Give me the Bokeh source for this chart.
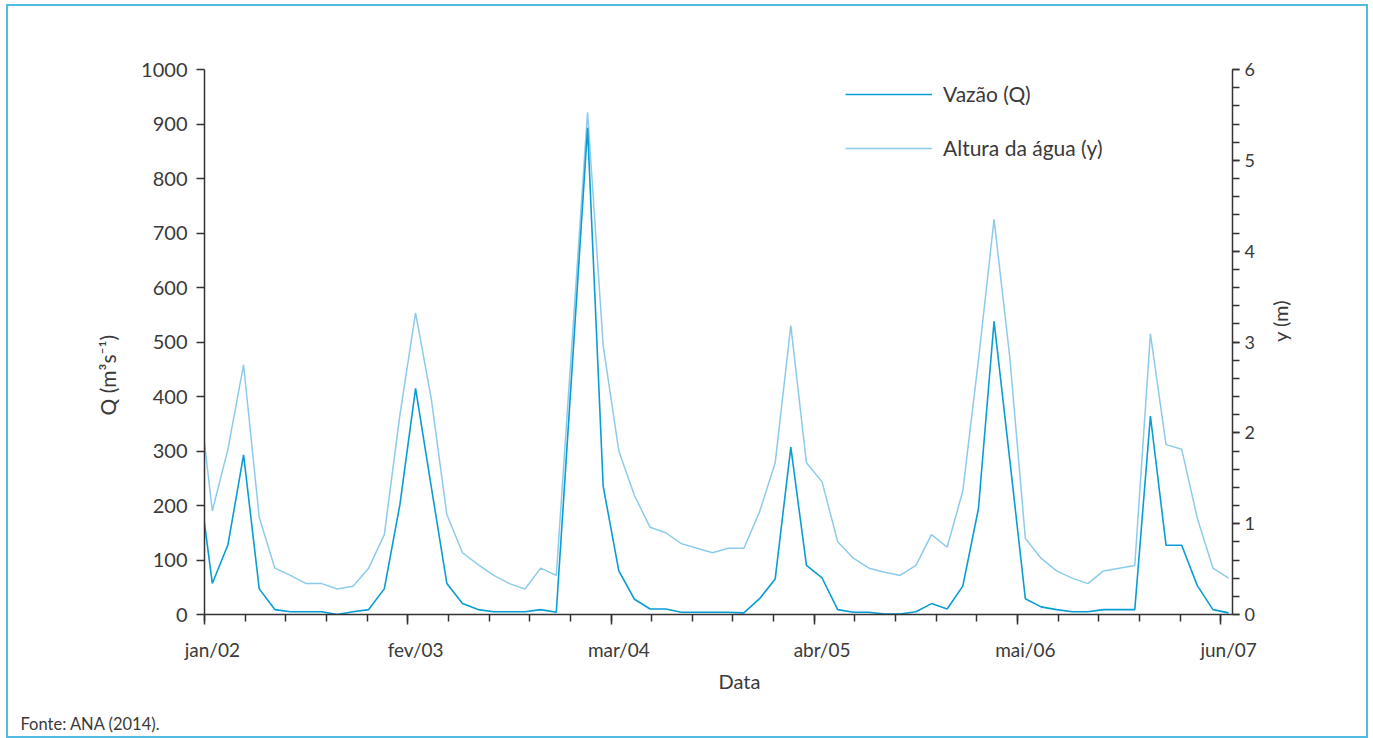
import math
import pandas as pd
from bokeh.plotting import figure
from bokeh.models import (Range1d, LinearAxis, FixedTicker, Legend, LegendItem, Title)
from bokeh.embed import file_html
from bokeh.resources import INLINE

# ---------------- data ----------------
months = pd.date_range("2001-12-01", "2007-06-01", freq="MS")

vazao = [277, 57, 128, 293, 47, 9, 5, 5, 5, 0, 5, 9, 47, 202, 415, 235, 57, 20, 9, 5,
         5, 5, 9, 4, 447, 893, 235, 80, 28, 10, 10, 4, 4, 4, 4, 3, 29, 65, 307, 90,
         67, 9, 4, 4, 1, 1, 5, 20, 10, 52, 194, 538, 285, 29, 14, 9, 5, 5, 9, 9,
         9, 364, 127, 127, 53, 9, 3]

altura = [2.64, 1.14, 1.82, 2.75, 1.07, 0.51, 0.43, 0.34, 0.34, 0.28, 0.31, 0.51, 0.88, 2.20,
          3.32, 2.38, 1.10, 0.68, 0.55, 0.43, 0.34, 0.28, 0.51, 0.43, 2.98, 5.53, 2.96, 1.80,
          1.31, 0.96, 0.90, 0.78, 0.73, 0.68, 0.73, 0.73, 1.13, 1.67, 3.18, 1.67, 1.46, 0.80,
          0.62, 0.51, 0.465, 0.43, 0.54, 0.88, 0.74, 1.36, 2.80, 4.35, 2.84, 0.84, 0.62, 0.48,
          0.40, 0.34, 0.48, 0.51, 0.54, 3.09, 1.87, 1.82, 1.06, 0.51, 0.40]

tick_months = ["2002-01-01", "2003-02-01", "2004-03-01", "2005-04-01", "2006-05-01", "2007-06-01"]
tick_labels = ["jan/02", "fev/03", "mar/04", "abr/05", "mai/06", "jun/07"]

q_ticks = list(range(0, 1001, 100))
h_ticks = [0, 1, 2, 3, 4, 5, 6]


def month_index(d):
    d = pd.Timestamp(d)
    return (d.year - 2002) * 12 + d.month - 1


x = [month_index(d) + 0.5 for d in months]          # values at mid-month
tick_pos = [month_index(t) for t in tick_months]     # ticks at month start
step = (tick_pos[1] - tick_pos[0]) / 5
minor_pos = [tick_pos[0] + i * step for i in range(5 * (len(tick_pos) - 1) + 1)]
h_minor = [i * 0.2 for i in range(31)]

# ---------------- style ----------------
DARK = "#0a9dd3"
LIGHT = "#8dcbea"
TXT = "#3a3a3a"
AX = "#333333"
FONT = "Lato"

X_END = 65.75
p = figure(width=1362, height=734, x_range=Range1d(0, X_END), y_range=Range1d(0, 1000),
           output_backend="svg", toolbar_location=None,
           min_border_left=196, min_border_right=138, min_border_top=63, min_border_bottom=126)
p.styles = {"border": "2px solid #52bbe1", "margin-left": "6px", "margin-top": "4px"}
p.grid.visible = False
p.outline_line_color = None
p.background_fill_color = "white"
p.border_fill_color = "white"

p.extra_y_ranges = {"h": Range1d(0, 6)}

r_alt = p.line(x, altura, y_range_name="h", line_color=LIGHT, line_width=1.5)
r_vaz = p.line(x, vazao, line_color=DARK, line_width=1.6)

# x axis: tick marks at month starts
xa = p.xaxis[0]
xa.ticker = FixedTicker(ticks=tick_pos, minor_ticks=minor_pos)
xa.major_label_overrides = {t: "" for t in tick_pos}
xa.major_label_text_font_size = "0px"
xa.major_label_standoff = 0
xa.major_tick_out = 10
xa.major_tick_in = 0
xa.minor_tick_out = 7
xa.minor_tick_in = 0
xa.axis_line_color = AX
xa.axis_line_width = 1.5
xa.major_tick_line_color = AX
xa.major_tick_line_width = 1.5
xa.minor_tick_line_color = AX
xa.minor_tick_line_width = 1.5

# x labels centred on the month of each tick
lab_pos = [t + 0.5 for t in tick_pos]
xl = LinearAxis(ticker=FixedTicker(ticks=lab_pos, minor_ticks=[]),
                major_label_overrides={t: l for t, l in zip(lab_pos, tick_labels)})
xl.axis_line_color = None
xl.major_tick_line_color = None
xl.minor_tick_line_color = None
xl.major_tick_out = 0
xl.major_tick_in = 0
xl.major_label_standoff = 13
xl.major_label_text_font = FONT
xl.major_label_text_font_size = "19px"
xl.major_label_text_color = TXT
p.add_layout(xl, "below")

# left axis
ya = p.yaxis[0]
ya.ticker = FixedTicker(ticks=q_ticks, minor_ticks=[])
ya.major_tick_out = 8
ya.major_tick_in = 0
ya.minor_tick_out = 0
ya.major_label_standoff = 9
ya.major_label_text_font = FONT
ya.major_label_text_font_size = "20px"
ya.major_label_text_color = TXT
ya.axis_line_color = AX
ya.axis_line_width = 1.5
ya.major_tick_line_color = AX
ya.major_tick_line_width = 1.5

# right axis
yr = LinearAxis(y_range_name="h", ticker=FixedTicker(ticks=h_ticks, minor_ticks=h_minor))
yr.major_tick_out = 7
yr.major_tick_in = 0
yr.minor_tick_out = 7
yr.minor_tick_in = 0
yr.major_label_standoff = 5
yr.major_label_text_font = FONT
yr.major_label_text_font_size = "18px"
yr.major_label_text_color = TXT
yr.axis_line_color = AX
yr.axis_line_width = 1.5
yr.major_tick_line_color = AX
yr.major_tick_line_width = 1.5
yr.minor_tick_line_color = AX
yr.minor_tick_line_width = 1.5
yr.axis_label = "y (m)"
yr.axis_label_standoff = 22
yr.axis_label_orientation = math.pi / 2
yr.axis_label_text_font = FONT
yr.axis_label_text_font_size = "20px"
yr.axis_label_text_font_style = "normal"
yr.axis_label_text_color = TXT
p.add_layout(yr, "right")

# legend
legend = Legend(items=[LegendItem(label="Vazão (Q)", renderers=[r_vaz]),
                       LegendItem(label="Altura da água (y)", renderers=[r_alt])],
                location=(641, 454), padding=0, margin=0, spacing=29,
                glyph_width=87, glyph_height=24, label_height=24, label_standoff=11,
                border_line_color=None, background_fill_alpha=0,
                label_text_font=FONT, label_text_font_size="21px", label_text_color=TXT)
p.add_layout(legend)

# titles
t_q = Title(text="Q (m³s⁻¹)", align="left", offset=199, standoff=38,
            text_font=FONT, text_font_size="21px", text_font_style="normal", text_color=TXT)
p.add_layout(t_q, "left")

t_data = Title(text="Data", align="left", offset=514, standoff=7,
               text_font=FONT, text_font_size="20px", text_font_style="normal", text_color=TXT)
p.add_layout(t_data, "below")

# small blank spacer between the axis title and the source line
t_gap = Title(text=" ", align="left", standoff=10,
              text_font=FONT, text_font_size="1px", text_font_style="normal", text_color=TXT)
p.add_layout(t_gap, "below")

t_src = Title(text="Fonte: ANA (2014).", align="left", offset=-184, standoff=4,
              text_font=FONT, text_font_size="16.5px", text_font_style="normal", text_color=TXT)
p.add_layout(t_src, "below")

open("out.html", "w").write(file_html(p, INLINE))
